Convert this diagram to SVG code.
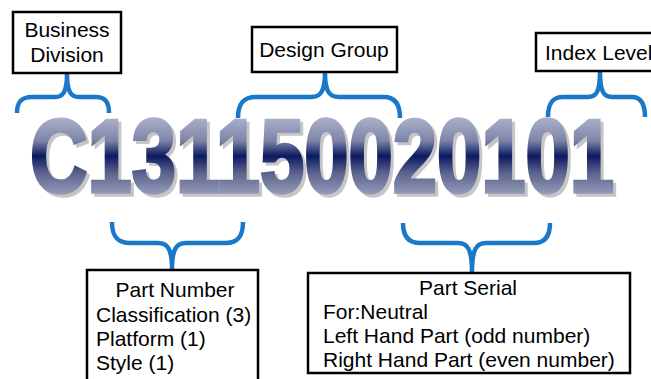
<svg xmlns="http://www.w3.org/2000/svg" width="651" height="379" viewBox="0 0 651 379">
<defs>
<linearGradient id="g" gradientUnits="userSpaceOnUse" x1="0" y1="118" x2="0" y2="194">
<stop offset="0" stop-color="#aab0c9"/>
<stop offset="0.3" stop-color="#7d84a7"/>
<stop offset="0.5" stop-color="#0b1960"/>
<stop offset="0.72" stop-color="#5a628c"/>
<stop offset="1" stop-color="#959bb8"/>
</linearGradient>
<style>
.box{fill:#fff;stroke:#000;stroke-width:2.5}
.t{font-family:"Liberation Sans",Arial,sans-serif;font-size:21px;fill:#000}
.br{fill:none;stroke:#1a78c8;stroke-width:4.5;stroke-linecap:butt;stroke-linejoin:round}
.big{font-family:"Liberation Sans",Arial,sans-serif;font-weight:bold;font-size:103px}
</style>
</defs>
<rect width="651" height="379" fill="#fff"/>
<g id="code">
<text class="big" x="33" y="195" textLength="584" lengthAdjust="spacingAndGlyphs" fill="#c6c6c6" stroke="#c6c6c6" stroke-width="3.5">C131150020101</text>
<text class="big" x="30" y="192" textLength="584" lengthAdjust="spacingAndGlyphs" fill="url(#g)" stroke="url(#g)" stroke-width="3.5">C131150020101</text>
</g>
<g id="connectors">
<path class="br" d="M17,113 C17,102 21,97 32,97 L55,97 C63,97 67,92 67,74 C67,92 71,97 79,97 L96,97 C105,97 109,102 109,113"/>
<path class="br" d="M238,118 C238,104 243,97 256,97 L311,97 C320,97 325,92 325,73 C325,92 330,97 339,97 L384,97 C395,97 400,104 400,118"/>
<path class="br" d="M548,117 C548,104 552,97 563,97 L588,97 C596,97 600,92 600,72 C600,92 604,97 612,97 L632,97 C641,97 645,104 645,117"/>
<path class="br" d="M112,222 C112,236 117,243 130,243 L158,243 C167,243 172,248 172,269 C172,248 177,243 186,243 L226,243 C238,243 243,236 243,222"/>
<path class="br" d="M403,223 C403,236 408,243 420,243 L458,243 C467,243 472,248 472,272 C472,248 477,243 486,243 L534,243 C545,243 550,236 550,223"/>
</g>
<g id="business-division">
<rect class="box" x="13" y="12" width="108" height="61"/>
<text class="t" x="67" y="37" text-anchor="middle">Business</text>
<text class="t" x="67" y="62" text-anchor="middle">Division</text>
</g>
<g id="design-group">
<rect class="box" x="252" y="27" width="145" height="45"/>
<text class="t" x="324" y="57" text-anchor="middle">Design Group</text>
</g>
<g id="index-level">
<rect class="box" x="536" y="33" width="130" height="38"/>
<text class="t" x="545" y="60">Index Level</text>
</g>
<g id="part-number">
<rect class="box" x="87" y="270" width="171" height="115"/>
<text class="t" x="175" y="297" text-anchor="middle">Part Number</text>
<text class="t" x="96" y="322">Classification (3)</text>
<text class="t" x="96" y="346">Platform (1)</text>
<text class="t" x="96" y="370">Style (1)</text>
</g>
<g id="part-serial">
<rect class="box" x="308" y="273" width="322" height="100"/>
<text class="t" x="468" y="295" text-anchor="middle">Part Serial</text>
<text class="t" x="323" y="319">For:Neutral</text>
<text class="t" x="323" y="343">Left Hand Part (odd number)</text>
<text class="t" x="323" y="367">Right Hand Part (even number)</text>
</g>
</svg>
